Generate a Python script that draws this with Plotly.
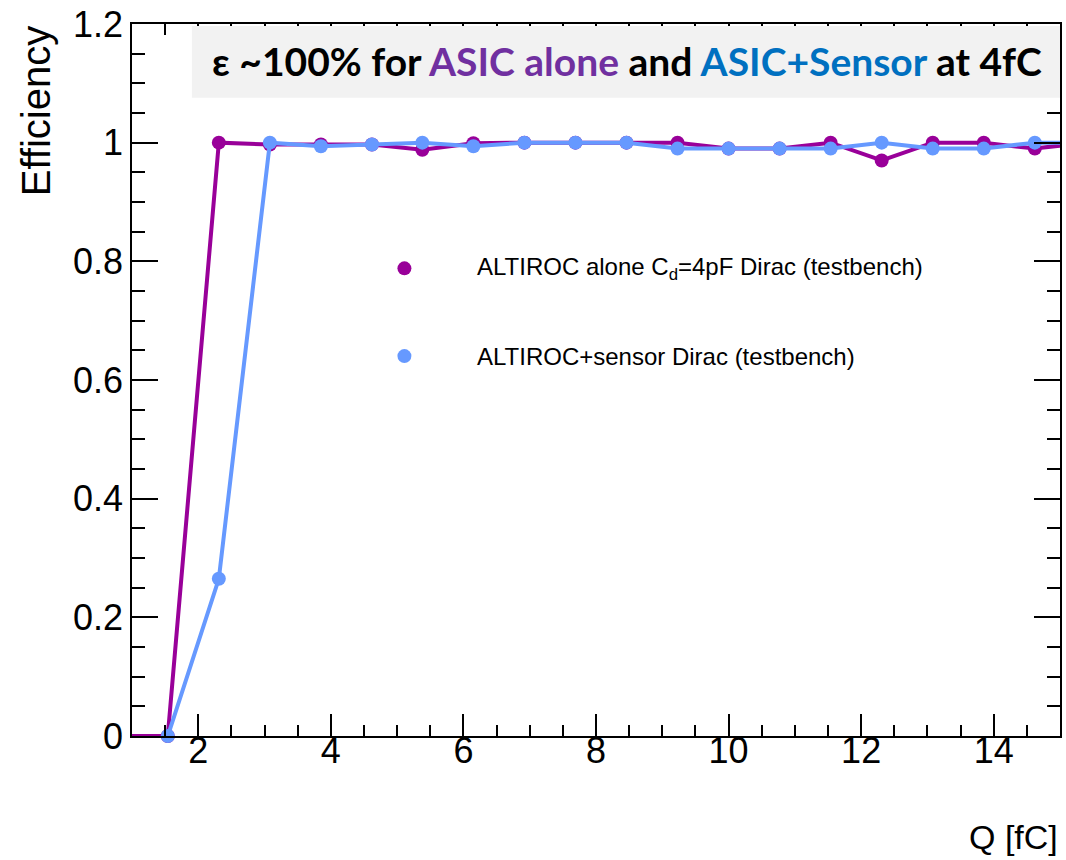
import plotly.graph_objects as go

# Injected charge Q [fC] scan points and measured efficiencies
q_alone = [0.77, 1.54, 2.31, 3.08, 3.85, 4.62, 5.38, 6.15, 6.92, 7.69, 8.46,
           9.23, 10.0, 10.77, 11.54, 12.31, 13.08, 13.85, 14.62, 15.38]
eff_alone = [0.0, 0.0, 1.0, 0.997, 0.997, 0.997, 0.988, 0.999, 1.0, 1.0, 1.0,
             1.0, 0.99, 0.99, 1.0, 0.97, 1.0, 1.0, 0.99, 1.0]

q_sensor = [1.54, 2.31, 3.08, 3.85, 4.62, 5.38, 6.15, 6.92, 7.69, 8.46,
            9.23, 10.0, 10.77, 11.54, 12.31, 13.08, 13.85, 14.62, 15.38]
eff_sensor = [0.0, 0.265, 1.0, 0.994, 0.997, 1.0, 0.994, 1.0, 1.0, 1.0,
              0.99, 0.99, 0.99, 0.99, 1.0, 0.99, 0.99, 1.0, 1.0]

x_range = [1, 15]
y_range = [0, 1.2]

C_ALONE = "#990099"
C_SENSOR = "#6699ff"

label_alone = "ALTIROC alone C<sub>d</sub>=4pF Dirac (testbench)"
label_sensor = "ALTIROC+sensor Dirac (testbench)"


def in_range(xs, ys):
    pts = [(x, y) for x, y in zip(xs, ys) if x_range[0] <= x <= x_range[1]]
    return [p[0] for p in pts], [p[1] for p in pts]


fig = go.Figure()
for xs, ys, col in [(q_alone, eff_alone, C_ALONE), (q_sensor, eff_sensor, C_SENSOR)]:
    fig.add_trace(go.Scatter(x=xs, y=ys, mode="lines",
                             line=dict(color=col, width=4), showlegend=False,
                             hoverinfo="skip"))
    mx, my = in_range(xs, ys)
    fig.add_trace(go.Scatter(x=mx, y=my, mode="markers", cliponaxis=False,
                             marker=dict(color=col, size=14), showlegend=False))

W, H = 1066, 860
L, R, T, B = 132, 4, 22, 124
pw, ph = W - L - R, H - T - B


def px(xp):
    return (xp - L) / pw


def py(yp):
    return (H - B - yp) / ph


FAM = "Liberation Sans, Arial"
axis_font = dict(family=FAM, size=36, color="black")

fig.update_xaxes(range=x_range, showline=True, linecolor="black", linewidth=1.5,
                 mirror="ticks", ticks="inside", ticklen=22, tickwidth=1.5,
                 tickcolor="black", dtick=2, tick0=0, showgrid=False,
                 zeroline=False, tickfont=axis_font, ticklabelstandoff=-18,
                 minor=dict(ticks="inside", ticklen=11, dtick=0.5, tick0=0,
                            tickcolor="black", tickwidth=1.5, showgrid=False))
fig.update_yaxes(range=y_range, showline=True, linecolor="black", linewidth=1.5,
                 mirror="ticks", ticks="inside", ticklen=26, tickwidth=1.5,
                 tickcolor="black", dtick=0.2, tick0=0, showgrid=False,
                 zeroline=False, tickfont=axis_font,
                 minor=dict(ticks="inside", ticklen=13, dtick=0.05, tick0=0,
                            tickcolor="black", tickwidth=1.5, showgrid=False))

shapes = [
    # header box
    dict(type="rect", xref="paper", yref="paper", x0=px(192), x1=px(1062),
         y0=py(96), y1=py(24), fillcolor="#f2f2f2", line=dict(width=0), layer="above"),
    # legend markers
    dict(type="circle", xref="paper", yref="paper", x0=px(398), x1=px(412),
         y0=py(274), y1=py(260), fillcolor=C_ALONE, line=dict(width=0)),
    dict(type="circle", xref="paper", yref="paper", x0=px(398), x1=px(412),
         y0=py(362), y1=py(348), fillcolor=C_SENSOR, line=dict(width=0)),
]

header = ("ε ~100% for <span style='color:#7030a0'>ASIC alone</span> and "
          "<span style='color:#0070c0'>ASIC+Sensor</span> at 4fC")

leg_font = dict(family=FAM, size=24, color="black")

annotations = [
    dict(text=header, xref="paper", yref="paper", x=px(628), y=py(59),
         xanchor="center", yanchor="middle", showarrow=False,
         font=dict(family="Lato", size=39, color="black", weight="bold")),
    dict(text=label_alone, xref="paper", yref="paper", x=px(476), y=py(267),
         xanchor="left", yanchor="middle", showarrow=False, font=leg_font),
    dict(text=label_sensor, xref="paper", yref="paper", x=px(476), y=py(355),
         xanchor="left", yanchor="middle", showarrow=False, font=leg_font),
    dict(text="Efficiency", xref="paper", yref="paper", x=px(12), y=py(22),
         xanchor="left", yanchor="top", textangle=-90, showarrow=False,
         font=dict(family=FAM, size=40, color="black")),
    dict(text="Q [fC]", xref="paper", yref="paper", x=1, y=py(816),
         xanchor="right", yanchor="top", showarrow=False,
         font=dict(family=FAM, size=34, color="black")),
]

fig.update_layout(width=W, height=H, margin=dict(l=L, r=R, t=T, b=B),
                  plot_bgcolor="white", paper_bgcolor="white",
                  shapes=shapes, annotations=annotations, showlegend=False)

fig.write_html("out.html")
